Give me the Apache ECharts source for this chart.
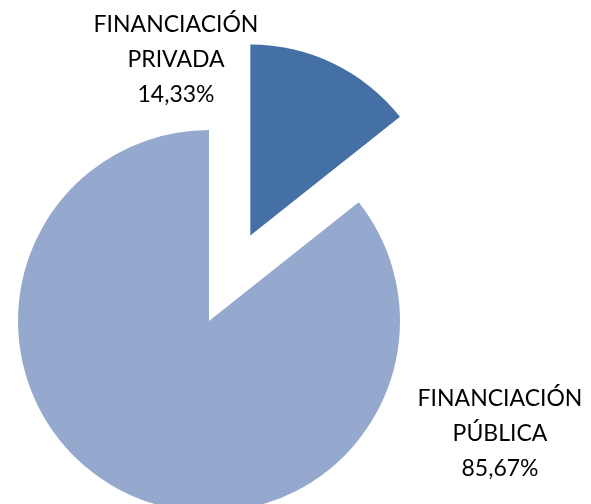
<!DOCTYPE html>
<html>
<head>
<meta charset="utf-8">
<script src="https://cdn.jsdelivr.net/npm/echarts@6/dist/echarts.min.js"></script>
<style>
  html, body { margin: 0; padding: 0; background: #fff; }
  #chartPie { width: 591px; height: 504px; }
</style>
</head>
<body>
<div id="chartPie"></div>
<script>
const categories = ["FINANCIACIÓN PRIVADA", "FINANCIACIÓN PÚBLICA"];
const values = [14.33, 85.67];
const colors = ["#4570A6", "#95A9CF"];

// centre of each text block
const labelPos = [[176, 60], [500, 434]];

var chartPie = echarts.init(document.getElementById('chartPie'));

const labelTexts = categories.map(function (c, i) {
    const pct = values[i].toFixed(2).replace(".", ",");
    return c.split(" ").join("\n") + "\n" + pct + "%";
});

chartPie.setOption({
    animation: false,
    graphic: labelTexts.map((t, i) => ({
        type: "text",
        x: labelPos[i][0],
        y: labelPos[i][1],
        style: {
            text: t,
            fill: "#000",
            fontFamily: "Lato",
            fontSize: 23,
            lineHeight: 35,
            align: "center",
            verticalAlign: "middle"
        }
    })),
    series: [
        {
            type: "pie",
            center: [209, 321],
            radius: 191,
            startAngle: 90,
            clockwise: true,
            selectedMode: "single",
            selectedOffset: 95,
            data: categories.map((c, i) => ({
                name: c,
                value: values[i],
                selected: i === 0,
                itemStyle: { color: colors[i] }
            })),
            label: { show: false },
            labelLine: { show: false },
            emphasis: { disabled: true },
            select: { itemStyle: { color: colors[0] } }
        }
    ]
});

window.addEventListener("resize", () => {
    if (chartPie) chartPie.resize();
});
</script>
</body>
</html>
